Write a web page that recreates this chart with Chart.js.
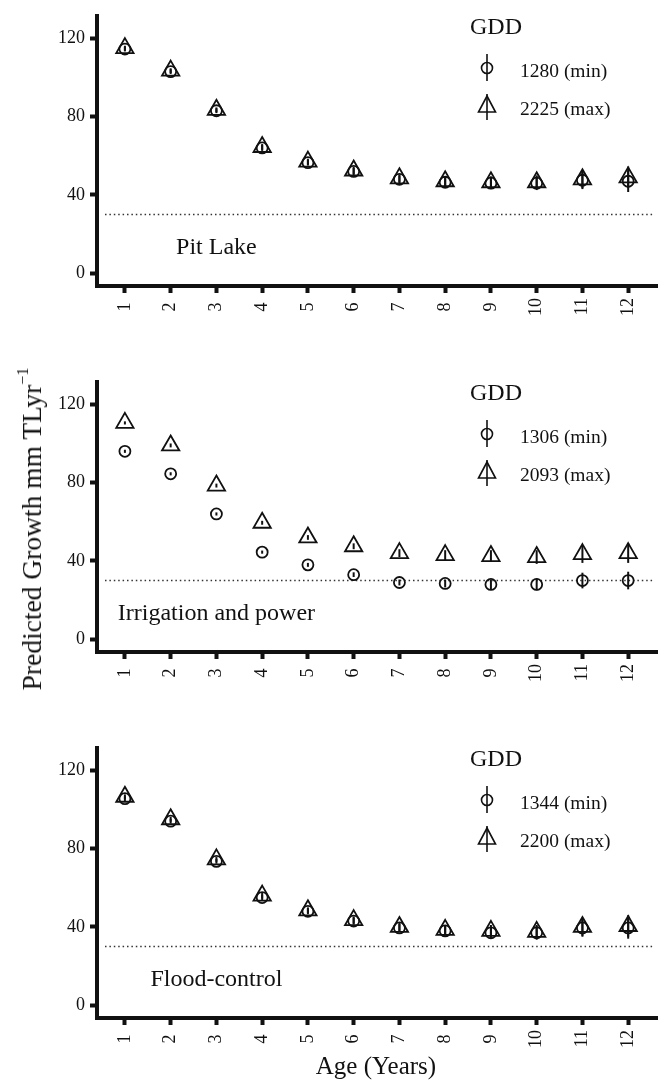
<!DOCTYPE html>
<html>
<head>
<meta charset="utf-8">
<script src="https://cdn.jsdelivr.net/npm/chart.js@4.4.0/dist/chart.umd.min.js"></script>
<style>
  body { margin: 0; background: #fff; }
  #wrap { position: relative; width: 661px; height: 1084px; font-family: "Liberation Serif", "Times New Roman", serif; color: #111; }
  canvas { position: absolute; left: 0; }
  #ytitle { position: absolute; left: 32px; top: 529px; transform: translate(-50%, -50%) rotate(-90deg); font-size: 27.5px; white-space: nowrap; }
  #ytitle sup { font-size: 16px; position: relative; top: -3px; }
  #xtitle { position: absolute; left: 376px; top: 1066px; transform: translate(-50%, -50%); font-size: 25px; white-space: nowrap; }
</style>
</head>
<body>
<div id="wrap">
  <canvas id="p1" width="661" height="330" style="top:0px"></canvas>
  <canvas id="p2" width="661" height="330" style="top:366px"></canvas>
  <canvas id="p3" width="661" height="330" style="top:732px"></canvas>
  <div id="ytitle">Predicted Growth mm TLyr<sup>−1</sup></div>
  <div id="xtitle">Age (Years)</div>
</div>
<script>
// data
const ages = [1, 2, 3, 4, 5, 6, 7, 8, 9, 10, 11, 12];
const xTickLabels = ['1', '2', '3', '4', '5', '6', '7', '8', '9', '10', '11', '12'];
const yTicks = [0, 40, 80, 120];
const refLine = 30;

const pitMin = [114.5, 103, 83, 64, 56.5, 52, 48, 46.5, 46, 46, 47.5, 47];
const pitMax = [115, 103.5, 83.5, 64.5, 57, 52.5, 48.5, 47, 46.5, 46.5, 48, 49];
const pitErr = [1.2, 1.2, 1.2, 1.5, 1.5, 1.8, 2, 2.5, 3, 3.5, 4.5, 5.5];

const irrMin = [96, 84.5, 64, 44.5, 38, 33, 29, 28.5, 28, 28, 30, 30];
const irrMax = [110.5, 99, 78.5, 59.5, 52, 47.5, 44, 43, 42.5, 42, 43.5, 44];
const irrErrMin = [0.8, 0.8, 0.8, 0.8, 1, 1.2, 1.5, 2, 2.5, 3, 4, 4.5];
const irrErrMax = [0.8, 1, 1, 1, 1.2, 1.5, 2, 2.5, 3, 3.5, 4.5, 5];

const floodMin = [105.5, 94, 73.5, 55, 48, 43, 39.5, 38, 37, 37, 39.5, 39.5];
const floodMax = [106.5, 95, 74.5, 56, 48.5, 43.5, 40, 38.5, 38, 37.5, 40, 40.5];
const floodErr = [1.2, 1.2, 1.2, 1.5, 1.5, 1.8, 2, 2.5, 3, 3.5, 4.5, 5.5];

const panelNames = ['Pit Lake', 'Irrigation and power', 'Flood-control'];
const gddMin = ['1280 (min)', '1306 (min)', '1344 (min)'];
const gddMax = ['2225 (max)', '2093 (max)', '2200 (max)'];
const namePos = [3, 13]; // age, value where the panel name sits

const ink = '#111';
const serif = '"Liberation Serif", "Times New Roman", serif';

const extras = {
  id: 'extras',
  beforeDatasetsDraw(chart, args, opts) {
    const { ctx, chartArea: a, scales: { x, y } } = chart;
    const yy = y.getPixelForValue(refLine);
    ctx.save();
    ctx.strokeStyle = '#333';
    ctx.lineWidth = 1.5;
    ctx.setLineDash([1.5, 2.9]);
    ctx.beginPath();
    ctx.moveTo(a.left + 8, yy);
    ctx.lineTo(a.right - 3, yy);
    ctx.stroke();
    ctx.setLineDash([]);
    ctx.font = '24px ' + serif;
    ctx.fillStyle = ink;
    ctx.textAlign = 'center';
    ctx.textBaseline = 'middle';
    ctx.fillText(opts.name, x.getPixelForValue(namePos[0]), y.getPixelForValue(namePos[1]));
    ctx.restore();
  },
  afterDatasetsDraw(chart, args, opts) {
    const { ctx, scales: { x, y } } = chart;
    ctx.save();
    ctx.strokeStyle = ink;
    ctx.lineWidth = 2;
    chart.data.datasets.forEach((ds, i) => {
      const err = opts.errs[i];
      ds.data.forEach((p, j) => {
        const px = x.getPixelForValue(p.x);
        ctx.beginPath();
        ctx.moveTo(px, y.getPixelForValue(p.y - err[j]));
        ctx.lineTo(px, y.getPixelForValue(p.y + err[j]));
        ctx.stroke();
      });
    });
    ctx.restore();
  },
  afterDraw(chart, args, opts) {
    const ctx = chart.ctx;
    const mx = 487, tx = 520;
    ctx.save();
    ctx.fillStyle = ink;
    ctx.strokeStyle = ink;
    ctx.font = '24px ' + serif;
    ctx.textAlign = 'center';
    ctx.textBaseline = 'alphabetic';
    ctx.fillText('GDD', 496, 34);
    ctx.font = '19.5px ' + serif;
    ctx.textAlign = 'left';
    ctx.fillText(opts.labMin, tx, 77);
    ctx.fillText(opts.labMax, tx, 115);
    ctx.lineWidth = 1.6;
    // circle symbol
    ctx.beginPath();
    ctx.arc(mx, 68, 5.5, 0, Math.PI * 2);
    ctx.stroke();
    ctx.beginPath();
    ctx.moveTo(mx, 54); ctx.lineTo(mx, 81);
    ctx.stroke();
    // triangle symbol
    ctx.beginPath();
    ctx.moveTo(mx, 96); ctx.lineTo(mx + 8.5, 112); ctx.lineTo(mx - 8.5, 112); ctx.closePath();
    ctx.stroke();
    ctx.beginPath();
    ctx.moveTo(mx, 94); ctx.lineTo(mx, 120);
    ctx.stroke();
    ctx.restore();
  }
};

function makePanel(id, idx, minVals, maxVals, errMin, errMax) {
  const pts = vals => ages.map((a, i) => ({ x: a, y: vals[i] }));
  new Chart(document.getElementById(id), {
    type: 'scatter',
    data: {
      datasets: [
        { data: pts(minVals), pointStyle: 'circle', pointRadius: 5.5, borderWidth: 1.8,
          borderColor: ink, backgroundColor: 'rgba(0,0,0,0)' },
        { data: pts(maxVals), pointStyle: 'triangle', pointRadius: 10, borderWidth: 1.8,
          borderColor: ink, backgroundColor: 'rgba(0,0,0,0)' }
      ]
    },
    options: {
      responsive: false,
      animation: false,
      layout: { autoPadding: false, padding: { top: 10, right: 4, bottom: 0, left: 0 } },
      plugins: {
        legend: { display: false },
        tooltip: { enabled: false },
        extras: { name: panelNames[idx], labMin: gddMin[idx], labMax: gddMax[idx], errs: [errMin, errMax] }
      },
      scales: {
        x: {
          type: 'linear', min: 0.39, max: 12.63,
          afterBuildTicks: s => { s.ticks = ages.map(v => ({ value: v })); },
          afterFit: s => { s.height = 44; },
          ticks: {
            autoSkip: false, minRotation: 90, maxRotation: 90, padding: 5, color: ink,
            font: { family: serif, size: 18 },
            // trailing space keeps one-digit labels centred like the two-digit ones
            callback: v => { const t = xTickLabels[ages.indexOf(v)]; return t.length === 1 ? t + ' ' : t; }
          },
          grid: { drawOnChartArea: false, drawTicks: true, tickLength: 7, tickWidth: 4, tickColor: ink },
          border: { display: true, width: 4, color: ink }
        },
        y: {
          min: -6.5, max: 131.5,
          afterBuildTicks: s => { s.ticks = yTicks.map(v => ({ value: v })); },
          afterFit: s => { s.width = 97; },
          ticks: { padding: 5, color: ink, font: { family: serif, size: 18 }, callback: v => String(v) },
          grid: { drawOnChartArea: false, drawTicks: true, tickLength: 7, tickWidth: 4, tickColor: ink },
          border: { display: true, width: 4, color: ink }
        }
      }
    },
    plugins: [extras]
  });
}

makePanel('p1', 0, pitMin, pitMax, pitErr, pitErr);
makePanel('p2', 1, irrMin, irrMax, irrErrMin, irrErrMax);
makePanel('p3', 2, floodMin, floodMax, floodErr, floodErr);
</script>
</body>
</html>
